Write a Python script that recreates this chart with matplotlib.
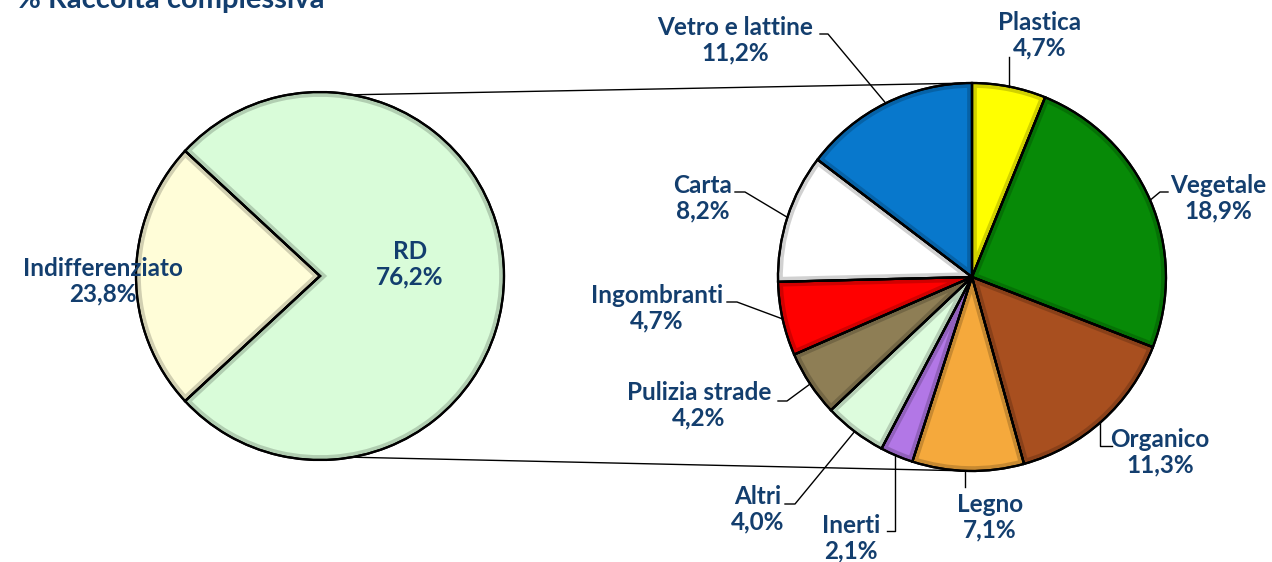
import numpy as np
import matplotlib
matplotlib.use("Agg")
import matplotlib.pyplot as plt
from matplotlib.patches import Wedge

# ---- data ----
main_labels = ["Indifferenziato", "RD"]
main_values = [23.8, 76.2]
main_colors = ["#FFFDD8", "#D9FCD9"]

sub_labels = ["Plastica", "Vegetale", "Organico", "Legno", "Inerti", "Altri",
              "Pulizia strade", "Ingombranti", "Carta", "Vetro e lattine"]
sub_values = [4.7, 18.9, 11.3, 7.1, 2.1, 4.0, 4.2, 4.7, 8.2, 11.2]
sub_colors = ["#FFFF00", "#078A07", "#A84F1F", "#F5A93C", "#B277E6", "#DDFCDD",
              "#8E7E55", "#FF0000", "#FFFFFF", "#0878CC"]

title = "% Raccolta complessiva"

def fmt(v):
    return f"{v:.1f}".replace(".", ",") + "%"

TXT = "#133E6E"
W, H = 1272, 562
def Y(y):
    return H - y

fig = plt.figure(figsize=(W / 100, H / 100), dpi=100)
ax = fig.add_axes([0, 0, 1, 1])

# layout
c1, r1 = (320, Y(276)), 184
c2, r2 = (972, Y(277)), 194

# connector lines (behind pies)
for a, end in [(80, (972, Y(83))), (-80, (972, Y(471)))]:
    p = (c1[0] + r1 * np.cos(np.radians(a)), c1[1] + r1 * np.sin(np.radians(a)))
    ax.plot([p[0], end[0]], [p[1], end[1]], color="black", lw=1.0, zorder=1)

start1 = 180 - main_values[0] * 3.6 / 2
w1, _ = ax.pie(main_values, colors=main_colors, startangle=start1, center=c1,
               radius=r1, wedgeprops=dict(edgecolor="black", linewidth=1.6),
               frame=False)
w2, _ = ax.pie(sub_values, colors=sub_colors, startangle=90, counterclock=False,
               center=c2, radius=r2,
               wedgeprops=dict(edgecolor="black", linewidth=1.6), frame=False)
for w in list(w1) + list(w2):
    w.set_zorder(2)
    # inner bevel shading
    sh = Wedge(w.center, w.r, w.theta1, w.theta2, facecolor="none",
               edgecolor="black", linewidth=7, alpha=0.18, zorder=3)
    ax.add_patch(sh)
    sh.set_clip_path(w)
    ol = Wedge(w.center, w.r, w.theta1, w.theta2, facecolor="none",
               edgecolor="black", linewidth=1.6, zorder=3.5)
    ax.add_patch(ol)

ax.set_xlim(0, W)
ax.set_ylim(0, H)
ax.set_aspect("equal")
ax.axis("off")

font = dict(family=["Lato", "DejaVu Sans"], fontweight="bold", fontsize=17.5,
            color=TXT, ha="center", va="center", linespacing=1.15, zorder=5)

# main pie labels
main_pos = {"Indifferenziato": (103, 281), "RD": (410, 264)}
for lab, v in zip(main_labels, main_values):
    x, y = main_pos[lab]
    ax.text(x, Y(y), f"{lab}\n{fmt(v)}", **font)

# sub pie labels with leader lines
sub_pos = {
    "Plastica": (1040, 35), "Vegetale": (1218, 198), "Organico": (1160, 452),
    "Legno": (990, 517), "Inerti": (851, 538), "Altri": (758, 509),
    "Pulizia strade": (699, 405), "Ingombranti": (657, 308),
    "Carta": (703, 198), "Vetro e lattine": (735, 40),
}
leader = {
    "Plastica": [(1009, 57)], "Vegetale": [(1168, 192), (1160, 192)],
    "Organico": [(1112, 446), (1100, 446)], "Legno": [(965, 487)],
    "Inerti": [(887, 531), (895, 531)], "Altri": [(785, 504), (795, 504)],
    "Pulizia strade": [(778, 401), (787, 401)],
    "Ingombranti": [(727, 302), (737, 302)], "Carta": [(735, 192), (745, 192)],
    "Vetro e lattine": [(820, 34), (828, 34)],
}
total = sum(sub_values)
cum = 0.0
for lab, v in zip(sub_labels, sub_values):
    mid = 90 - (cum + v / 2) / total * 360
    cum += v
    ex = c2[0] + r2 * np.cos(np.radians(mid))
    ey = c2[1] + r2 * np.sin(np.radians(mid))
    pts = leader[lab]
    xs = [p[0] for p in pts] + [ex]
    ys = [Y(p[1]) for p in pts] + [ey]
    if lab in ("Organico", "Inerti", "Plastica", "Legno"):
        xs[-1] = xs[-2]
        ys[-1] = c2[1] + np.sign(ey - c2[1]) * np.sqrt(max(r2**2 - (xs[-2] - c2[0])**2, 0))
    ax.plot(xs, ys, color="black", lw=1.0, zorder=4)
    x, y = sub_pos[lab]
    ax.text(x, Y(y), f"{lab}\n{fmt(v)}", **font)

ax.text(17, Y(8), title, family=["Lato", "DejaVu Sans"], fontweight="bold",
        fontsize=21, color=TXT, ha="left", va="baseline", zorder=5)

fig.savefig("out.png", dpi=100)
